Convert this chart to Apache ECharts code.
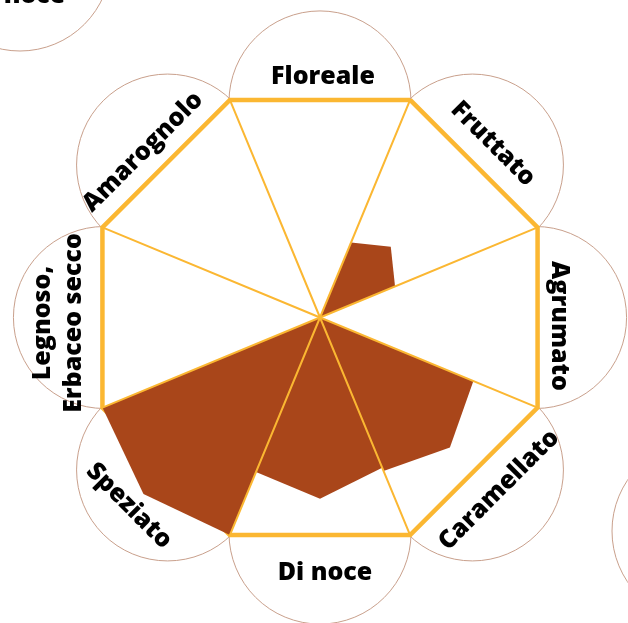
<!DOCTYPE html>
<html>
<head>
<meta charset="utf-8">
<script src="https://cdn.jsdelivr.net/npm/echarts@6/dist/echarts.min.js"></script>
<style>
  html, body { margin: 0; padding: 0; background: #fff; }
  #chart { width: 628px; height: 623px; }
</style>
</head>
<body>
<div id="chart"></div>
<script>
// flavours, clockwise from the top
const flavours = ['Floreale', 'Fruttato', 'Agrumato', 'Caramellato', 'Di noce', 'Speziato', 'Legnoso,\nErbaceo secco', 'Amarognolo'];
// value in the middle of each sector, and on the spoke before / after it (scale 0-10)
const peakValues = [0, 4.25, 0, 7.8, 7.7, 10.6, 0, 0];
const leftValues = [0, 3.45, 0, 7.05, 6.9, 10, 0, 0];
const rightValues = [0, 3.45, 0, 7.05, 7.1, 10, 0, 0];
const scaleMax = 10;

const BROWN = '#A9461A';
const YELLOW = '#FBB732';
const RING = '#C9A08C';
const CENTER = [320, 317.5];
const RADIUS = 235.5;
const STEPS = flavours.length * 2;
const LABEL_FONT = '800 25px "Open Sans"';

// radar indicators run anticlockwise, the flavours clockwise
function sectorValues(k) {
  const v = new Array(STEPS).fill(0);
  const put = (p, val) => {
    const q = (p + STEPS) % STEPS;
    v[(STEPS - q) % STEPS] = val;
  };
  put(2 * k - 1, leftValues[k]);
  put(2 * k, peakValues[k]);
  put(2 * k + 1, rightValues[k]);
  return v;
}

const indicators = [];
for (let i = 0; i < STEPS; i++) {
  const p = (STEPS - i) % STEPS;
  indicators.push({ name: p % 2 ? '' : flavours[p / 2], max: scaleMax });
}
const spokeIndicators = flavours.map(() => ({ name: '', max: scaleMax }));

// label placement (px) and rotation (deg, anticlockwise)
const labelLayout = [
  { x: 323, y: 77, rot: 0 },
  { x: 493, y: 144, rot: -45 },
  { x: 559, y: 326, rot: -90 },
  { x: 499, y: 490, rot: 45 },
  { x: 325, y: 573, rot: 0 },
  { x: 129, y: 506, rot: -45 },
  { x: 58, y: 323, rot: 90 },
  { x: 143, y: 152, rot: 45 }
];

const ringDist = RADIUS * Math.cos(Math.PI / 8) - 2;
const ringR = 91;

const graphics = [];
flavours.forEach((name, k) => {
  const a = k * Math.PI / 4;
  graphics.push({
    type: 'circle',
    shape: { cx: CENTER[0] + ringDist * Math.sin(a), cy: CENTER[1] - ringDist * Math.cos(a), r: ringR },
    style: { fill: null, stroke: RING, lineWidth: 1 },
    silent: true
  });
});
// rings of the neighbouring charts
graphics.push({ type: 'circle', shape: { cx: 20, cy: -40, r: ringR }, style: { fill: null, stroke: RING, lineWidth: 1 }, silent: true });
graphics.push({ type: 'circle', shape: { cx: 703, cy: 531, r: ringR }, style: { fill: null, stroke: RING, lineWidth: 1 }, silent: true });
graphics.push({
  type: 'text', x: 18, y: -4,
  style: { text: 'Di noce', font: LABEL_FONT, fill: '#000', align: 'center', verticalAlign: 'middle' },
  silent: true
});

flavours.forEach((name, k) => {
  const l = labelLayout[k];
  graphics.push({
    type: 'text',
    x: l.x,
    y: l.y,
    rotation: l.rot * Math.PI / 180,
    style: {
      text: name,
      font: LABEL_FONT,
      lineHeight: 31,
      fill: '#000',
      align: 'center',
      verticalAlign: 'middle'
    },
    silent: true
  });
});

const chart = echarts.init(document.getElementById('chart'));

chart.setOption({
  animation: false,
  backgroundColor: '#fff',
  graphic: { z: 0, elements: graphics },
  radar: [
    {
      // data scale, 16 directions
      center: CENTER,
      radius: RADIUS,
      startAngle: 90,
      indicator: indicators,
      z: 1,
      axisName: { show: false },
      axisLine: { show: false },
      axisTick: { show: false },
      axisLabel: { show: false },
      splitLine: { show: false },
      splitArea: { show: false }
    },
    {
      // octagon outline
      center: CENTER,
      radius: RADIUS,
      startAngle: 67.5,
      shape: 'polygon',
      splitNumber: 1,
      indicator: spokeIndicators,
      z: 1,
      axisName: { show: false },
      axisLine: { show: false },
      splitLine: { lineStyle: { color: YELLOW, width: 4.5 } },
      splitArea: { show: true, areaStyle: { color: ['#fff'] } }
    },
    {
      // spokes, above the fill
      center: CENTER,
      radius: RADIUS,
      startAngle: 67.5,
      shape: 'polygon',
      splitNumber: 1,
      indicator: spokeIndicators,
      z: 3,
      axisName: { show: false },
      axisLine: { lineStyle: { color: YELLOW, width: 2 } },
      splitLine: { show: false },
      splitArea: { show: false }
    }
  ],
  series: [{
    type: 'radar',
    radarIndex: 0,
    z: 2,
    silent: true,
    symbol: 'none',
    lineStyle: { width: 0, opacity: 0 },
    areaStyle: { color: BROWN, opacity: 1 },
    emphasis: { disabled: true },
    data: flavours
      .map((name, k) => ({ name: name, value: sectorValues(k) }))
      .filter((d, k) => peakValues[k] > 0)
  }]
});

window.addEventListener('resize', () => chart.resize());
</script>
</body>
</html>
